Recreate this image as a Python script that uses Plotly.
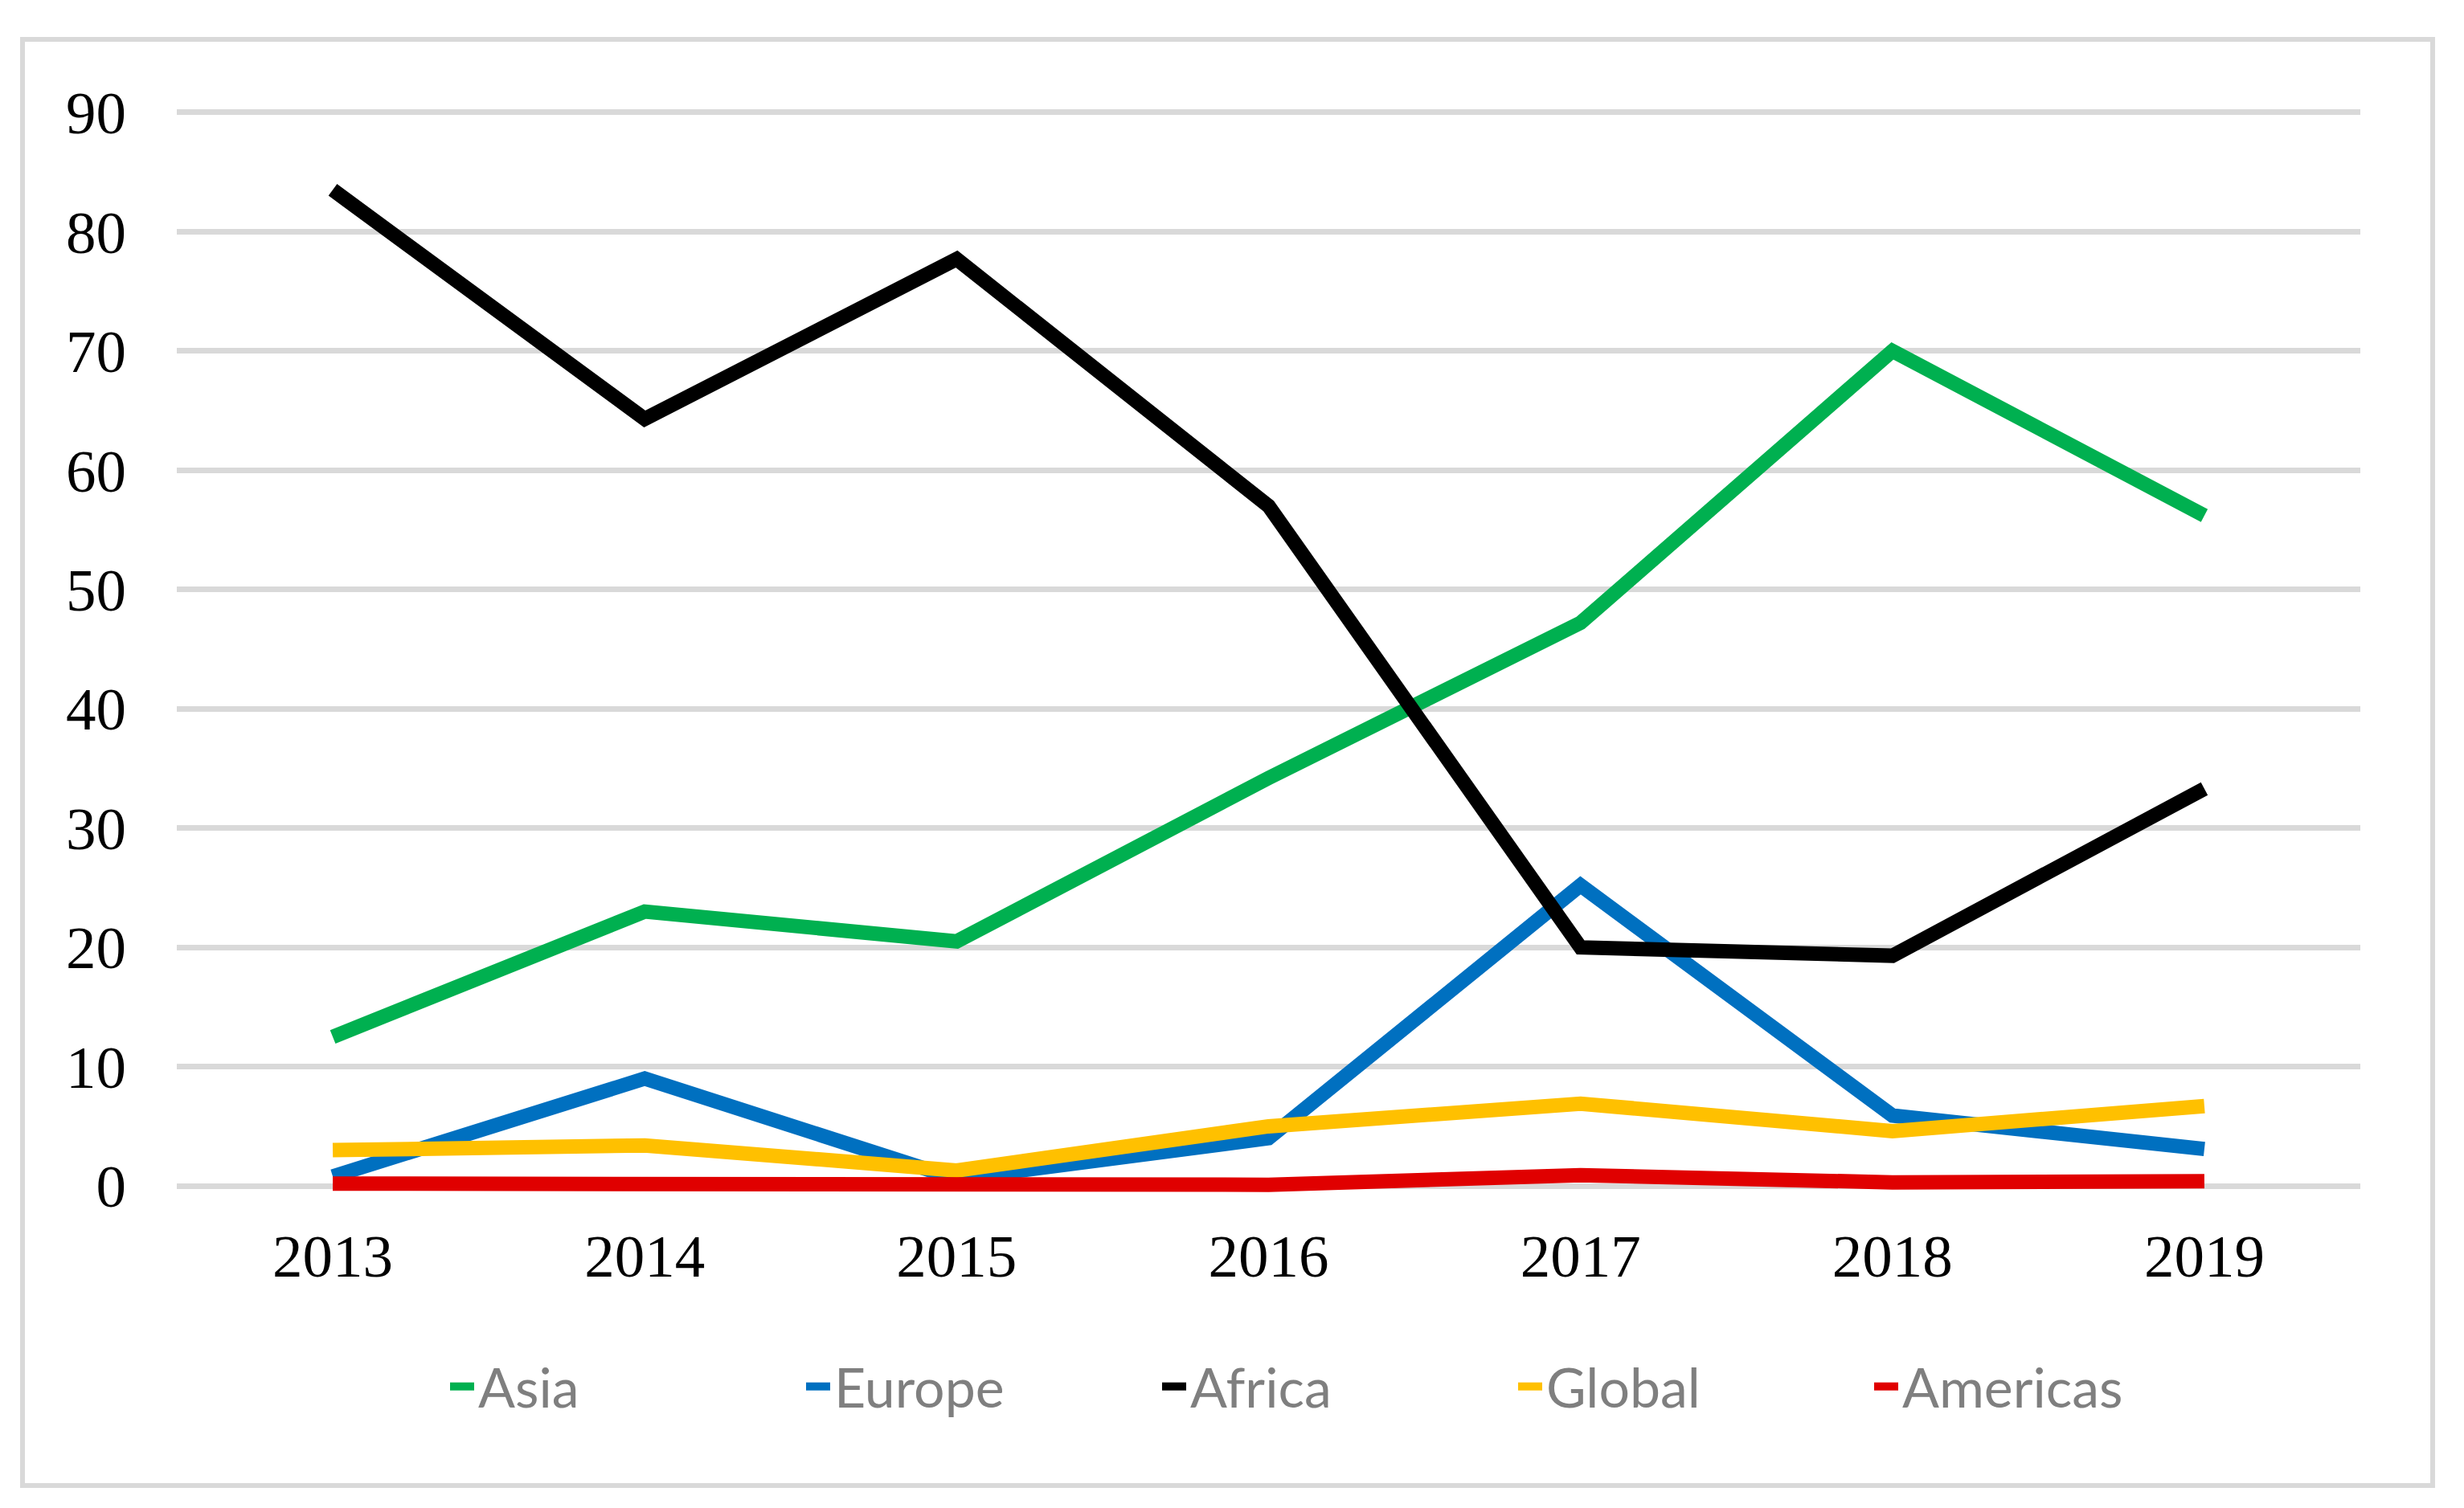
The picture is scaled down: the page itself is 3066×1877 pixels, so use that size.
import plotly.graph_objects as go

years = ["2013", "2014", "2015", "2016", "2017", "2018", "2019"]
asia = [12.5, 23.0, 20.5, 34.2, 47.2, 70.0, 56.2]
europe = [0.8, 9.0, 0.6, 4.0, 25.2, 5.9, 3.1]
africa = [83.5, 64.3, 77.7, 57.0, 20.0, 19.3, 33.3]
global_ = [3.0, 3.4, 1.3, 5.0, 6.9, 4.6, 6.7]
americas = [0.2, 0.1, 0.1, 0.1, 0.9, 0.3, 0.4]

series = [
    ("Asia", asia, "#00b050"),
    ("Europe", europe, "#0070c0"),
    ("Africa", africa, "#000000"),
    ("Global", global_, "#ffc000"),
    ("Americas", americas, "#e00000"),
]
y_ticks = [0, 10, 20, 30, 40, 50, 60, 70, 80, 90]

fig = go.Figure()
for name, vals, col in series:
    fig.add_trace(go.Scatter(
        x=years, y=vals, name=name, mode="lines",
        line=dict(color=col, width=18),
    ))

# page body has an 8px margin; work in page pixels and subtract it
OFF = 8
W, H = 3066 - 2 * OFF, 1877 - 2 * OFF
plot_left, plot_right = 220 - OFF, 2937 - OFF
plot_top, plot_bottom = 125 - OFF, 1491 - OFF
L, R, T, B = plot_left, W - plot_right, plot_top, H - plot_bottom
pw = W - L - R
ph = H - T - B

def px_to_paper_x(px):
    return (px - OFF - L) / pw

def px_to_paper_y(py):
    return (H - (py - OFF) - B) / ph

fig.add_shape(type="rect", xref="paper", yref="paper",
              x0=px_to_paper_x(28), x1=px_to_paper_x(3027),
              y0=px_to_paper_y(1849), y1=px_to_paper_y(49),
              line=dict(color="#d9d9d9", width=6), fillcolor="rgba(0,0,0,0)",
              layer="below")

fig.update_layout(
    width=W, height=H,
    margin=dict(l=L, r=R, t=T, b=B),
    paper_bgcolor="white", plot_bgcolor="white",
    showlegend=True,
    legend=dict(
        orientation="h", x=px_to_paper_x(555), xanchor="left",
        y=px_to_paper_y(1726), yanchor="middle",
        font=dict(family="Lato", size=68, color="#7f7f7f"),
        entrywidth=398, itemwidth=30,
        bgcolor="rgba(0,0,0,0)",
    ),
    xaxis=dict(
        type="category", range=[-0.5, 6.5], showgrid=False, zeroline=False,
        showline=False, ticks="",
        tickfont=dict(family="Liberation Serif", size=75, color="black"),
        ticklabelstandoff=22,
    ),
    yaxis=dict(
        range=[-1, 91], tickvals=y_ticks, ticktext=[str(v) for v in y_ticks],
        showgrid=True, gridcolor="#d9d9d9", gridwidth=7,
        zeroline=False, showline=False, ticks="",
        tickfont=dict(family="Liberation Serif", size=75, color="black"),
        ticklabelstandoff=62,
    ),
)

fig.write_html("out.html")
